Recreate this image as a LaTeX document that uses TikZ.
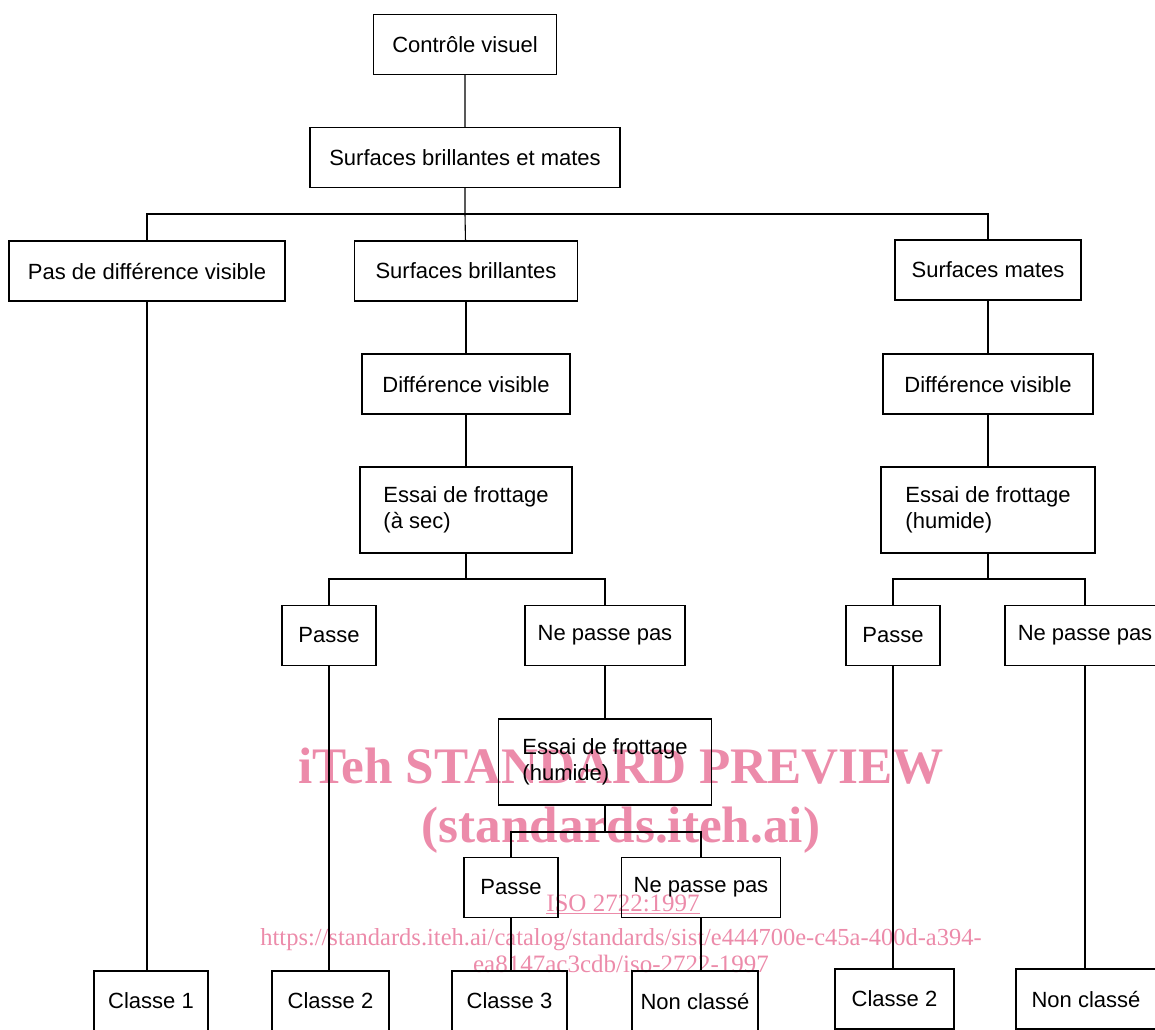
\documentclass[tikz,border=0pt]{standalone}
\usepackage{fontspec}
\setmainfont{Liberation Sans}
\newfontfamily\wmfont{Liberation Serif}
\definecolor{wmpink}{RGB}{236,139,170}

\begin{document}
\begin{tikzpicture}[x=1pt,y=-1pt,line width=1.1pt,
	box/.style={draw,minimum height=60pt,inner sep=0pt,font=\fontsize{22}{26}\selectfont},
	tallbox/.style={box,minimum height=86pt,align=left},
	wmark/.style={text=wmpink,anchor=base,inner sep=0pt}]
		\path[use as bounding box,clip] (0,0) rectangle (1155,1029);
		
		% watermark
		\node[wmark,font=\wmfont\bfseries\fontsize{51.2}{52}\selectfont] (wm1) at (621,783) {iTeh STANDARD PREVIEW};
		\node[wmark,font=\wmfont\bfseries\fontsize{51.2}{52}\selectfont] (wm2) at (621,842) {(standards.iteh.ai)};
		\node[wmark,font=\wmfont\fontsize{25}{27}\selectfont] (wm3) at (623,911) {\underline{ISO 2722:1997}};
		\node[wmark,font=\wmfont\fontsize{24.5}{27}\selectfont] (wm4) at (621,945) {https://standards.iteh.ai/catalog/standards/sist/e444700e-c45a-400d-a394-};
		\node[wmark,font=\wmfont\fontsize{25}{27}\selectfont] (wm5) at (621,972) {ea8147ac3cdb/iso-2722-1997};
		
		% boxes
		\node[box,minimum width=183pt] (cv) at (465,44.5) {Contrôle visuel};
		\node[box,minimum width=310pt] (sbm) at (465,157.5) {Surfaces brillantes et mates};
		\node[box,minimum width=276pt] (pdv) at (147,271) {Pas de différence visible};
		\node[box,minimum width=223pt] (sb) at (466,271) {Surfaces brillantes};
		\node[box,minimum width=186pt] (sm) at (988,270) {Surfaces mates};
		\node[box,minimum width=208pt] (dvl) at (466,384) {Différence visible};
		\node[box,minimum width=210pt] (dvr) at (988,384) {Différence visible};
		\node[tallbox,minimum width=212pt] (efs) at (466,510) {Essai de frottage\\(à sec)};
		\node[tallbox,minimum width=214pt] (efhr) at (988,510) {Essai de frottage\\(humide)};
		\node[box,minimum width=94pt] (pl) at (329,635.5) {Passe};
		\node[box,minimum width=160pt] (npl) at (605,635.5) {Ne passe pas};
		\node[box,minimum width=94pt] (pr) at (893,635.5) {Passe};
		\node[box,minimum width=160pt] (npr) at (1085,635.5) {Ne passe pas};
		\node[tallbox,minimum width=213pt] (efhm) at (605,762) {Essai de frottage\\(humide)};
		\node[box,minimum width=94pt] (pm) at (511,887.5) {Passe};
		\node[box,minimum width=159pt] (npm) at (701,887.5) {Ne passe pas};
		\node[box,minimum width=114pt] (c1) at (151,1001) {Classe 1};
		\node[box,minimum width=117pt] (c2l) at (330.5,1001) {Classe 2};
		\node[box,minimum width=115pt] (c3) at (509.5,1001) {Classe 3};
		\node[box,minimum width=126pt] (ncm) at (695,1001) {Non classé};
		\node[box,minimum width=119pt] (c2r) at (894.5,999) {Classe 2};
		\node[box,minimum width=140pt] (ncr) at (1086,999) {Non classé};
		
		% connectors
		\coordinate (bus1) at (465,214);
		\coordinate (bus2) at (466,579);
		\coordinate (bus3) at (605,832);
		\coordinate (bus4) at (988,579);
		\draw (cv) -- (sbm) -- (bus1) -- (sb);
		\draw (pdv.north) |- (bus1) -| (sm.north);
		\draw (pdv) -- (pdv |- c1.north);
		\draw (sb) -- (dvl) -- (efs) -- (bus2);
		\draw (pl.north) |- (bus2) -| (npl.north);
		\draw (pl) -- (pl |- c2l.north);
		\draw (npl) -- (efhm) -- (bus3);
		\draw (pm.north) |- (bus3) -| (npm.north);
		\draw (pm) -- (pm |- c3.north);
		\draw (npm) -- (npm |- ncm.north);
		\draw (sm) -- (dvr) -- (efhr) -- (bus4);
		\draw (pr.north) |- (bus4) -| (npr.north);
		\draw (pr) -- (pr |- c2r.north);
		\draw (npr) -- (npr |- ncr.north);
	\end{tikzpicture}
\end{document}
